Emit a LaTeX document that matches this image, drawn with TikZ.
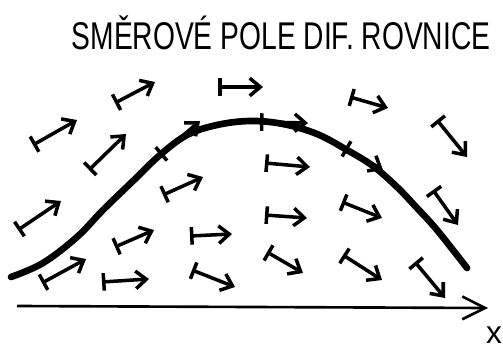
\documentclass[tikz,border=0pt]{standalone}
\usepackage{fontspec}
\setmainfont{Liberation Sans}
\usetikzlibrary{arrows.meta}

\begin{document}
\begin{tikzpicture}[x=0.02cm, y=-0.02cm,
    slope/.style={line width=2pt, line cap=round,
      {Bar[width=10pt, line width=2pt]}-{Straight Barb[length=6pt, width=10pt, line width=2pt]}},
    solution/.style={line width=3.8pt, line cap=round},
    axis/.style={line width=1.5pt, -{Straight Barb[length=13pt, width=13pt, line width=1.5pt]}},
    title/.style={font=\fontsize{22}{22}\selectfont}]

  \useasboundingbox (0,0) rectangle (503,348);

  % --- nadpis ---
  \node[title] (nadpis) at (281,33) {\scalebox{0.73}[1]{SMĚROVÉ POLE DIF. ROVNICE}};

  % --- osa x ---
  \coordinate (x0) at (17,306);
  \coordinate (x1) at (488,308);
  \draw[axis] (x0) -- (x1);
  \node[font=\fontsize{18}{18}\selectfont] (xlab) at (494,335) {x};

  % --- integralni krivka ---
  \draw[solution] plot[smooth, tension=0.6] coordinates {
    (11,277) (43,263) (77,237) (103,210) (133,181) (160,155) (187,135)
    (217,125) (250,121) (283,124) (317,134) (347,150) (373,166)
    (397,187) (417,208) (437,230) (467,268)};

  % --- smerove elementy ---
  \foreach \xa/\ya/\xb/\yb in {
      33/145/77/120, 115/103/155/82, 89/170/126/134, 218/87/263/87,
      163/195/203/177, 18/230/61/201, 350/97/388/108, 437/120/467/157,
      265/163/310/167, 265/215/307/218, 342/202/382/218, 433/190/458/225,
      267/252/303/273, 343/255/382/280, 415/262/445/298,
      42/283/86/259, 115/247/154/230, 102/282/149/279,
      190/236/232/234, 192/270/235/287}
    \draw[slope] (\xa,\ya) -- (\xb,\yb);

  % --- elementy na krivce ---
  \draw[slope] (160,155) -- (200,121);
  \draw[slope] (260,122) -- (308,123);
  \draw[slope] (345,148) -- (383,170);

\end{tikzpicture}
\end{document}
